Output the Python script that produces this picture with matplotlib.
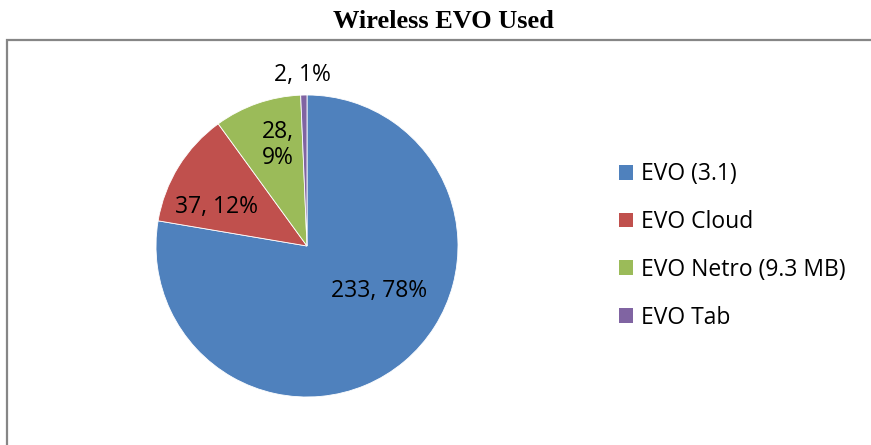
import matplotlib
matplotlib.use("Agg")
import matplotlib.pyplot as plt
from matplotlib.patches import Rectangle, Patch

categories = ["EVO (3.1)", "EVO Cloud", "EVO Netro (9.3 MB)", "EVO Tab"]
values = [233, 37, 28, 2]
percent_labels = ["78%", "12%", "9%", "1%"]
colors = ["#4F81BD", "#C0504D", "#9BBB59", "#8064A2"]
title = "Wireless EVO Used"

W, H = 871, 445
fig = plt.figure(figsize=(W / 100, H / 100), dpi=100)
fig.patch.set_facecolor("white")

# outer chart border (extends beyond right/bottom edges)
fig.patches.append(Rectangle((7 / W, -0.2), 1.2, (H - 40) / H + 0.2,
                             transform=fig.transFigure, fill=False,
                             edgecolor="#868686", linewidth=1.6))

fig.text(443 / W, 1 - 22 / H, title, ha="center", va="center",
         fontsize=19, fontweight="bold", family="Liberation Serif")

cx, cy, R = 307, H - 246, 151
ax = fig.add_axes([(cx - R) / W, (cy - R) / H, 2 * R / W, 2 * R / H])
ax.pie(values, colors=colors, startangle=90, counterclock=False, radius=1,
       wedgeprops=dict(linewidth=0.6, edgecolor="white"))
ax.set_xlim(-1, 1)
ax.set_ylim(-1, 1)
ax.set_aspect("equal")
ax.axis("off")

label_pos = [(0.48, -0.30), (-0.60, 0.26), (-0.19, 0.67), (-0.03, 1.13)]
label_fmt = ["{v}, {p}", "{v}, {p}", "{v},\n{p}", "{v}, {p}"]
fs = 16.5
for v, p, pos, fmt in zip(values, percent_labels, label_pos, label_fmt):
    ax.text(pos[0], pos[1], fmt.format(v=v, p=p), ha="center", va="center",
            fontsize=fs, family="Open Sans", color="black", linespacing=1.1,
            clip_on=False)

handles = [Patch(facecolor=c, edgecolor="none") for c in colors]
leg = fig.legend(handles, categories, loc="center left",
                 bbox_to_anchor=(619 / W, 1 - 246 / H),
                 frameon=False, prop=dict(family="Open Sans", size=fs),
                 handlelength=0.61, handleheight=0.61, handletextpad=0.35,
                 labelspacing=1.04, borderaxespad=0, borderpad=0)

fig.savefig("out.png", dpi=100, facecolor="white")
